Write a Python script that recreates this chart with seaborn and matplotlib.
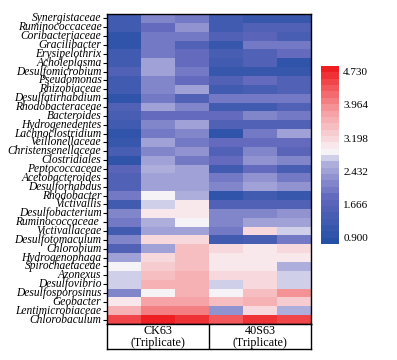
import numpy as np
import pandas as pd
import seaborn as sns
import matplotlib.pyplot as plt
from matplotlib.colors import LinearSegmentedColormap

# Row labels (genera / families), top to bottom
taxa = [
    "Synergistaceae", "Ruminococcaceae", "Coribacteriaceae", "Gracilibacter",
    "Erysipelothrix", "Acholeplasma", "Desulfomicrobium", "Pseudomonas",
    "Rhizobiaceae", "Desulfatirhabdium", "Rhodobacteraceae", "Bacteroides",
    "Hydrogenedentes", "Lachnoclostridium", "Veillonellaceae", "Christensenellaceae",
    "Clostridiales", "Peptococcaceae", "Acetobacteroides", "Desulforhabdus",
    "Rhodobacter", "Victivallis", "Desulfobacterium", "Ruminococcaceae ",
    "Victivallaceae", "Desulfotomaculum", "Chlorobium", "Hydrogenophaga",
    "Spirochaetaceae", "Azonexus", "Desulfovibrio", "Desulfosporosinus",
    "Geobacter", "Lentimicrobiaceae", "Chlorobaculum",
]

# log abundance values, three replicates per treatment
ck63_1 = [1.20, 1.20, 0.95, 0.95, 1.20, 1.30, 1.60, 1.20, 1.30, 0.95, 1.50, 1.40,
          1.20, 0.95, 1.10, 1.40, 1.05, 1.70, 1.60, 1.60, 2.00, 1.30, 2.20, 2.00,
          1.30, 2.20, 1.60, 2.40, 2.95, 2.75, 2.75, 2.20, 3.00, 3.55, 4.45]
ck63_2 = [2.20, 1.80, 2.00, 2.00, 2.00, 2.50, 2.50, 2.20, 2.20, 2.00, 2.50, 1.90,
          2.20, 2.00, 2.50, 2.20, 2.40, 2.65, 2.40, 2.40, 2.85, 2.70, 3.00, 2.60,
          2.40, 3.20, 2.40, 3.20, 3.35, 3.50, 3.65, 2.95, 3.70, 4.05, 4.73]
ck63_3 = [2.00, 2.30, 2.00, 1.60, 1.90, 1.80, 2.00, 1.80, 2.50, 1.60, 2.20, 1.80,
          2.40, 2.10, 2.00, 2.30, 2.00, 2.50, 2.40, 2.40, 2.65, 3.00, 3.00, 2.85,
          2.40, 3.20, 3.40, 3.40, 3.50, 3.60, 3.60, 3.55, 3.70, 4.00, 4.70]
s40_1 = [1.30, 1.30, 1.50, 1.10, 1.40, 1.30, 1.10, 1.50, 1.20, 2.00, 1.20, 1.80,
         1.50, 1.05, 1.90, 1.50, 1.90, 1.20, 2.00, 2.20, 0.95, 1.50, 2.10, 2.20,
         2.00, 1.30, 3.20, 3.00, 3.00, 3.20, 2.80, 2.95, 3.40, 2.30, 4.30]
s40_2 = [1.15, 1.50, 1.70, 2.00, 1.60, 1.60, 1.10, 1.80, 1.40, 2.00, 1.20, 2.20,
         1.50, 2.00, 1.90, 2.10, 2.30, 1.80, 2.30, 2.40, 1.30, 1.60, 2.20, 2.50,
         3.20, 1.40, 3.00, 3.00, 3.00, 3.20, 3.20, 3.40, 3.60, 3.20, 4.60]
s40_3 = [1.15, 1.50, 1.40, 2.00, 1.90, 1.05, 1.10, 1.60, 1.60, 2.00, 1.60, 2.00,
         1.50, 2.40, 1.90, 1.70, 2.10, 1.40, 2.00, 2.30, 1.10, 1.60, 2.30, 2.40,
         2.80, 2.00, 3.20, 3.00, 2.60, 2.80, 2.80, 3.95, 3.35, 2.60, 4.55]

groups = ["CK63\n(Triplicate)", "40S63\n(Triplicate)"]
cbar_ticks = [0.900, 1.666, 2.432, 3.198, 3.964, 4.730]

df = pd.DataFrame(
    {"CK63_1": ck63_1, "CK63_2": ck63_2, "CK63_3": ck63_3,
     "40S63_1": s40_1, "40S63_2": s40_2, "40S63_3": s40_3},
    index=taxa,
)

cmap = LinearSegmentedColormap.from_list(
    "bwr_custom",
    [(0.0, "#2650a6"), (0.25, "#6068bc"), (0.45, "#b0b0de"),
     (0.52, "#f8f4f8"), (0.75, "#f6a0a4"), (1.0, "#ee1f23")],
    N=28,
)

plt.rcParams["font.family"] = ["Liberation Serif", "DejaVu Serif"]

fig = plt.figure(figsize=(3.97, 3.60), dpi=100)
W, H = 397, 360
ax = fig.add_axes([107 / W, 1 - 324 / H, 204 / W, 310 / H])
cax = fig.add_axes([321 / W, 1 - 244 / H, 18 / W, 178 / H])

sns.heatmap(df, ax=ax, cmap=cmap, vmin=0.76, vmax=4.86, cbar_ax=cax,
            xticklabels=False, yticklabels=True)

ax.set_yticks(np.arange(len(taxa)) + 0.5)
ax.set_yticklabels(taxa, fontsize=8.3, style="italic", rotation=0)
ax.tick_params(axis="y", length=3, width=0.8, pad=1)
ax.tick_params(axis="x", length=0)
ax.set_xlabel("")
ax.set_ylabel("")
for sp in ax.spines.values():
    sp.set_visible(True)
    sp.set_linewidth(1.0)

cbar = ax.collections[0].colorbar
cbar.set_ticks(cbar_ticks)
cbar.set_ticklabels([f"{t:.3f}" for t in cbar_ticks])
cbar.ax.tick_params(length=0, labelsize=8, pad=3)
cbar.outline.set_visible(False)

# group label box under the heatmap
bax = fig.add_axes([107 / W, 1 - 349 / H, 204 / W, 25 / H])
bax.set_xlim(0, 2)
bax.set_ylim(0, 1)
bax.set_xticks([])
bax.set_yticks([])
bax.axvline(1, color="black", lw=1.0)
for sp in bax.spines.values():
    sp.set_linewidth(1.0)
for i, g in enumerate(groups):
    bax.text(i + 0.5, 0.48, g, ha="center", va="center", fontsize=8.7,
             linespacing=1.05)

fig.savefig("out.png", dpi=100)
